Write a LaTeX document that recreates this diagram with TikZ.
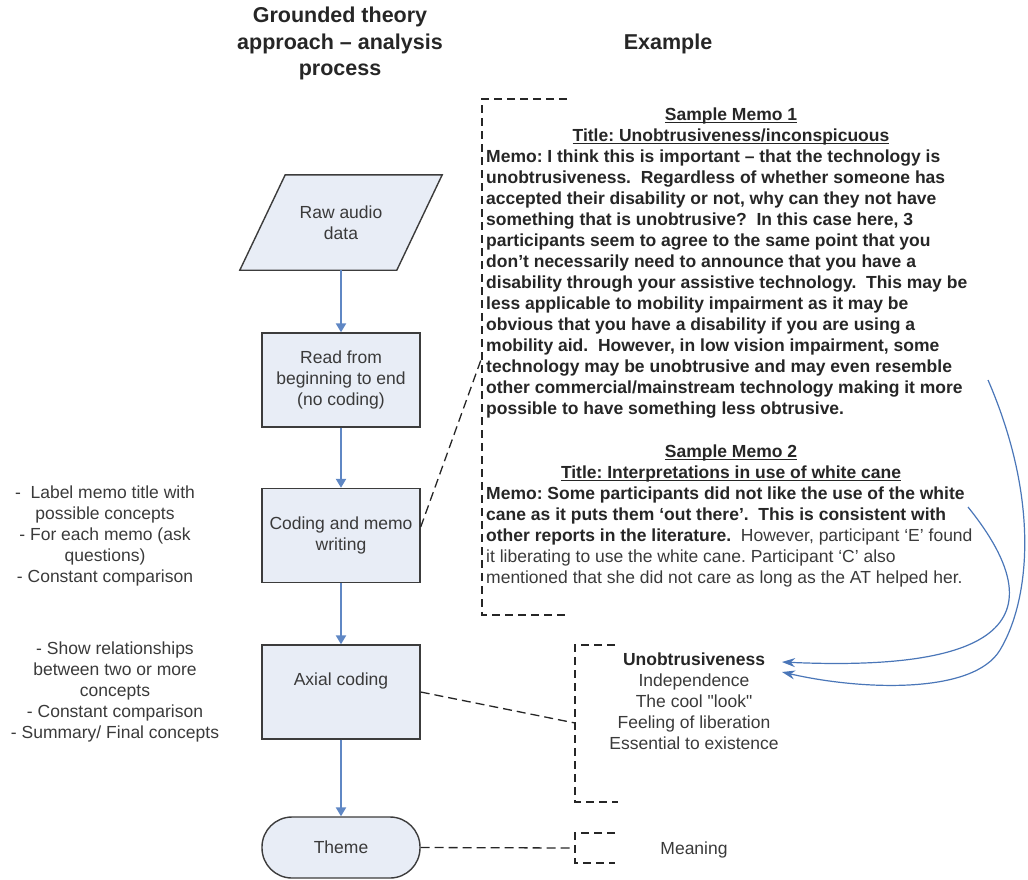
\documentclass[tikz,border=0pt]{standalone}
\usepackage{fontspec}
\setmainfont{Liberation Sans}[Ligatures=TeXOff]
\usetikzlibrary{arrows.meta,backgrounds}
\definecolor{ink}{HTML}{262626}
\definecolor{grayink}{HTML}{3A3A3A}
\definecolor{boxfill}{HTML}{E8EDF6}
\definecolor{boxline}{HTML}{3C3C3C}
\definecolor{flow}{HTML}{5F87C4}
\definecolor{link}{HTML}{4A76B8}
\newcommand\bodyfont{\fontsize{17.5}{21}\selectfont}
\newcommand\headfont{\fontsize{21.5}{26.5}\selectfont\bfseries}
% underline set just below the baseline, through descenders
\newcommand\ulbox[1]{\setbox0\hbox{#1}\rlap{\rule[-3pt]{\wd0}{1.3pt}}\box0}
\frenchspacing
\begin{document}
\begin{tikzpicture}[x=1pt,y=-1pt,
  flowbox/.style={draw=boxline, line width=1.4pt, fill=boxfill,
    minimum width=158pt, minimum height=94pt, inner sep=0pt,
    align=center, font=\bodyfont, text=grayink},
  flowarrow/.style={draw=flow, line width=2.4pt,
    -{Triangle[length=9pt,width=10pt]}},
  dashlink/.style={draw=ink, line width=1.3pt, dash pattern=on 9pt off 5pt},
  bracket/.style={draw=ink, line width=1.3pt, dash pattern=on 8pt off 5pt},
  memo/.style={anchor=base west, inner sep=0pt, font=\bodyfont\bfseries, text=ink},
  memoplain/.style={anchor=base west, inner sep=0pt, font=\bodyfont, text=grayink},
  memotitle/.style={anchor=base, inner sep=0pt, font=\bodyfont\bfseries, text=ink},
  sidenote/.style={align=center, inner sep=0pt, font=\bodyfont, text=grayink},
  head/.style={align=center, inner sep=0pt, font=\headfont, text=ink},
  memoarrow/.style={draw=link, line width=1.2pt,
    -{Stealth[length=13pt,width=9pt]}}]
\useasboundingbox (0,0) rectangle (1028,879);

% column headings
\node[head] (procHead) at (340,43.5) {Grounded theory\\approach – analysis\\process};
\node[head] (exHead) at (668,43.5) {Example};

% process flow
\node[sidenote, minimum width=202pt, minimum height=95pt] (raw) at (341,222.5) {Raw audio\\data};
\begin{pgfonlayer}{background}
  \draw[draw=boxline, line width=1.4pt, fill=boxfill]
    (raw.south west) -- ++(157,0) -- (raw.north east) -- ++(-157,0) -- cycle;
\end{pgfonlayer}
\node[flowbox] (read) at (341,380) {Read from\\beginning to end\\(no coding)};
\node[flowbox] (code) at (341,535.5) {Coding and memo\\writing};
\node[flowbox, text height=13pt, text depth=27pt] (axial) at (341,692) {Axial coding};
\node[flowbox, minimum height=61pt, rounded corners=30pt] (theme) at (341,847.5) {Theme};

\draw[flowarrow] (raw.south) -- (read.north);
\draw[flowarrow] (read.south) -- (code.north);
\draw[flowarrow] (code.south) -- (axial.north);
\draw[flowarrow] (axial.south) -- (theme.north);

% notes beside the steps
\node[sidenote] (codeNotes) at (105,536) {-\ \ Label memo title with\\possible concepts\\- For each memo (ask\\questions)\\- Constant comparison};
\node[sidenote] (axialNotes) at (115,692) {- Show relationships\\between two or more\\concepts\\- Constant comparison\\- Summary/ Final concepts};

% memo examples
\node[memotitle] (ma1) at (731,120) {\ulbox{Sample Memo 1}};
\node[memotitle] (ma2) at (731,141) {\ulbox{Title: Unobtrusiveness/inconspicuous}};
\node[memo] (ma3) at (486,162) {Memo: I think this is important – that the technology is};
\node[memo] (ma4) at (486,183) {unobtrusiveness.\ \ Regardless of whether someone has};
\node[memo] (ma5) at (486,204) {accepted their disability or not, why can they not have};
\node[memo] (ma6) at (486,225) {something that is unobtrusive?\ \ In this case here, 3};
\node[memo] (ma7) at (486,246) {participants seem to agree to the same point that you};
\node[memo] (ma8) at (486,267) {don’t necessarily need to announce that you have a};
\node[memo] (ma9) at (486,288) {disability through your assistive technology.\ \ This may be};
\node[memo] (ma10) at (486,309) {less applicable to mobility impairment as it may be};
\node[memo] (ma11) at (486,330) {obvious that you have a disability if you are using a};
\node[memo] (ma12) at (486,351) {mobility aid.\ \ However, in low vision impairment, some};
\node[memo] (ma13) at (486,372) {technology may be unobtrusive and may even resemble};
\node[memo] (ma14) at (486,393) {other commercial/mainstream technology making it more};
\node[memo] (ma15) at (486,414) {possible to have something less obtrusive.};

\node[memotitle] (mb1) at (731,457) {\ulbox{Sample Memo 2}};
\node[memotitle] (mb2) at (731,478) {\ulbox{Title: Interpretations in use of white cane}};
\node[memo] (mb3) at (486,499) {Memo: Some participants did not like the use of the white};
\node[memo] (mb4) at (486,520) {cane as it puts them ‘out there’.\ \ This is consistent with};
\node[memo] (mb5) at (486,541) {other reports in the literature.\ \ {\mdseries\color{grayink}However, participant ‘E’ found}};
\node[memoplain] (mb6) at (486,562) {it liberating to use the white cane. Participant ‘C’ also};
\node[memoplain] (mb7) at (486,583) {mentioned that she did not care as long as the AT helped her.};

% concepts and meaning
\node[sidenote] (concepts) at (694,701.5) {{\bfseries\color{ink}Unobtrusiveness}\\Independence\\The cool "look"\\Feeling of liberation\\Essential to existence};
\node[sidenote] (meaning) at (694,850) {Meaning};

% dashed brackets and their ties to the steps
\draw[bracket] (567,99) -- (482,99) -- (482,615) -- (568,615);
\draw[bracket] (615,645) -- (575,645) -- (575,802) -- (618,802);
\draw[bracket] (615,833) -- (575,833) -- (575,863) -- (615,863);
\coordinate (memoTie) at (482,357);
\coordinate (conceptTie) at (575,723);
\coordinate (meaningTie) at (575,848);
\draw[dashlink] ([yshift=8.5pt]code.east) -- (memoTie);
\draw[dashlink] (axial.east) -- (conceptTie);
\draw[dashlink] (theme.east) -- (meaningTie);

% memos feeding the concept list
\coordinate (fromMemoA) at (988,380);
\coordinate (toConceptA) at (782,672);
\coordinate (fromMemoB) at (968,507);
\coordinate (toConceptB) at (782,662);
\draw[memoarrow] (fromMemoA) .. controls (1040,500) and (1030,600) .. (1000,650)
  .. controls (973,695) and (860,690) .. (toConceptA);
\draw[memoarrow] (fromMemoB) .. controls (1075,640) and (960,670) .. (toConceptB);
\end{tikzpicture}
\end{document}
